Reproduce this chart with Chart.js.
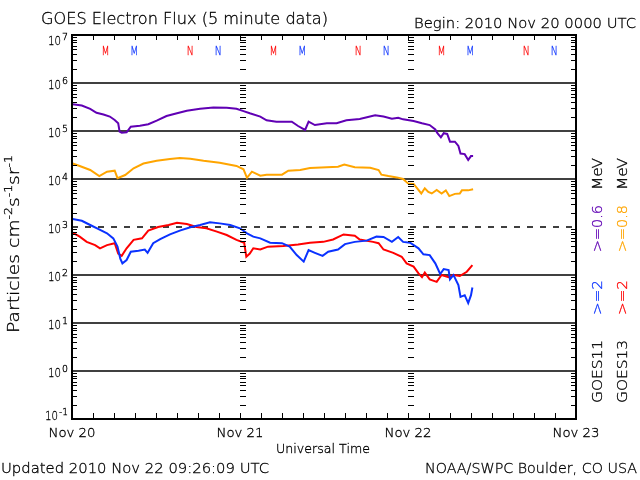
<!DOCTYPE html>
<html>
<head>
<meta charset="utf-8">
<title>GOES Electron Flux</title>
<script src="https://cdn.jsdelivr.net/npm/chart.js@4.4.0/dist/chart.umd.min.js"></script>
<style>
  html, body { margin: 0; padding: 0; background: #fff; }
  canvas { display: block; }
</style>
</head>
<body>
<canvas id="fluxChart" width="640" height="480"></canvas>
<script>
// hours since 2010 Nov 20 0000 UTC, flux in particles cm^-2 s^-1 sr^-1
const g11HighHours = [0.1,1.4,2.6,3.5,4.5,5.4,6.1,6.6,6.8,7.1,7.8,8.4,9.7,10.9,12.1,13.5,15.0,16.4,18.3,20.2,
  22.1,23.5,24.5,25.4,26.9,27.8,29.2,31.4,32.3,33.3,33.8,34.7,36.4,37.8,39.2,41.1,43.3,44.5,45.7,46.6,
  47.3,48.8,50.0,51.1,51.9,52.2,52.7,53.1,53.6,54.0,54.7,55.2,55.5,56.1,56.6,57.0,57.3];
const g11HighFlux = [3.6e5,3.4e5,2.9e5,2.4e5,2.2e5,2.0e5,1.7e5,1.45e5,9.7e4,9.2e4,9.4e4,1.23e5,1.29e5,1.38e5,1.64e5,2.05e5,2.34e5,2.65e5,2.9e5,3.1e5,
  3.05e5,2.9e5,2.6e5,2.34e5,2.0e5,1.67e5,1.56e5,1.56e5,1.27e5,1.05e5,1.56e5,1.33e5,1.45e5,1.45e5,1.67e5,1.78e5,2.12e5,2.0e5,1.8e5,1.89e5,
  1.75e5,1.62e5,1.45e5,1.33e5,1.08e5,9.0e4,7.4e4,9.0e4,8.7e4,6.0e4,6.0e4,4.9e4,3.4e4,3.3e4,2.5e4,3.0e4,3.0e4];

const g13HighHours = [0.1,1.1,2.6,3.9,5.0,6.1,6.5,7.6,8.8,10.2,12.1,14.0,15.4,16.9,18.8,21.1,23.5,24.5,25.0,25.7,
  26.9,27.8,30.0,30.9,32.6,34.0,36.4,38.0,38.9,40.4,42.6,43.8,44.2,45.2,46.4,47.3,48.0,48.8,49.2,49.9,
  50.4,50.9,51.4,52.1,52.8,53.4,53.9,54.7,55.4,55.7,56.6,57.3];
const g13HighFlux = [2.1e4,1.87e4,1.54e4,1.15e4,1.42e4,1.49e4,1.04e4,1.21e4,1.67e4,2.1e4,2.4e4,2.6e4,2.74e4,2.65e4,2.4e4,2.19e4,1.87e4,1.59e4,1.06e4,1.42e4,
  1.17e4,1.23e4,1.23e4,1.49e4,1.54e4,1.69e4,1.75e4,1.8e4,1.99e4,1.75e4,1.72e4,1.54e4,1.23e4,1.15e4,1.08e4,1.0e4,8.1e3,7.9e3,6.7e3,5.0e3,
  6.4e3,5.4e3,5.0e3,5.9e3,5.0e3,5.8e3,4.4e3,4.9e3,5.0e3,5.8e3,5.8e3,6.1e3];

const g11LowHours = [0.1,1.4,2.6,3.8,5.0,5.9,6.5,6.9,7.2,7.8,8.4,9.5,10.4,10.8,11.6,12.6,14.0,15.4,16.9,18.3,
  19.7,21.1,22.6,24.0,25.0,25.9,26.9,28.3,30.0,31.1,32.1,33.1,33.8,34.7,35.8,36.6,38.0,39.0,40.4,42.1,
  43.5,44.5,45.7,46.6,47.3,48.3,49.5,50.2,51.1,51.9,52.6,53.1,53.8,54.0,54.5,55.2,55.5,56.1,56.6,57.0,57.2];
const g11LowFlux = [1.47e3,1.35e3,1.1e3,9.0e2,7.4e2,5.8e2,3.9e2,2.2e2,1.75e2,2.05e2,3.05e2,3.2e2,3.4e2,2.9e2,4.6e2,5.6e2,7.0e2,8.4e2,9.9e2,1.1e3,
  1.25e3,1.19e3,1.1e3,9.4e2,7.4e2,6.3e2,5.8e2,4.7e2,4.6e2,3.9e2,2.6e2,1.9e2,3.3e2,2.9e2,2.5e2,3.05e2,3.4e2,4.4e2,4.9e2,5.2e2,
  6.3e2,6.2e2,4.9e2,6.2e2,4.9e2,4.7e2,3.6e2,2.7e2,2.6e2,1.75e2,1.05e2,1.33e2,1.27e2,81,100,62,35,38,26,38,55];

const g13LowHours = [0.1,1.1,2.1,3.3,4.0,5.0,6.1,6.6,7.1,7.8,8.8,10.0,10.9,12.3,13.8,15.0,16.4,17.8,19.2,20.7,
  22.1,23.5,24.6,24.9,25.4,25.9,26.9,28.0,30.2,32.3,34.0,35.9,37.3,38.8,40.4,41.1,43.0,43.8,44.5,45.9,
  47.1,47.8,48.8,49.5,50.0,50.4,51.1,52.1,52.8,53.8,54.5,55.4,56.4,57.2];
const g13LowFlux = [7.6e2,6.3e2,4.9e2,4.2e2,3.6e2,4.2e2,4.6e2,2.8e2,2.5e2,3.6e2,5.4e2,5.8e2,8.4e2,1.0e3,1.1e3,1.23e3,1.15e3,1.0e3,9.4e2,8.0e2,
  6.8e2,5.4e2,4.7e2,2.4e2,2.8e2,3.6e2,3.4e2,3.9e2,4.0e2,4.3e2,4.7e2,4.9e2,5.5e2,7.0e2,6.6e2,5.5e2,4.9e2,4.6e2,3.4e2,2.9e2,
  2.4e2,1.75e2,1.5e2,1.08e2,90,1.12e2,81,72,100,90,100,95,1.17e2,1.6e2];

const decadeExponents = [-1, 0, 1, 2, 3, 4, 5, 6, 7];
const dayLabels = ['Nov 20', 'Nov 21', 'Nov 22', 'Nov 23'];
const dayHours = [0, 24, 48, 72];

// local midnight (M) / noon (N) of each satellite
const markLetters = ['M', 'M', 'N', 'N', 'M', 'M', 'N', 'N', 'M', 'M', 'N', 'N'];
const markSats = ['G13', 'G11', 'G13', 'G11', 'G13', 'G11', 'G13', 'G11', 'G13', 'G11', 'G13', 'G11'];
const markHours = [4.8, 8.9, 16.9, 20.9, 28.8, 32.9, 40.9, 44.9, 52.8, 56.9, 64.9, 68.9];

const FONT = '"DejaVu Sans", sans-serif';
const WEIGHT = '200 ';
const COLORS = { g11High: '#6000b4', g13High: '#ffa500', g11Low: '#0a32ff', g13Low: '#ff0000' };
const satColor = { G11: COLORS.g11Low, G13: COLORS.g13Low };

function toPoints(hours, flux) {
  return hours.map((h, i) => ({ x: h, y: flux[i] }));
}

// thin font, darkened with a hairline stroke
function paint(ctx, text, x, y, color) {
  ctx.fillStyle = color;
  ctx.strokeStyle = color;
  ctx.fillText(text, x, y);
  ctx.strokeText(text, x, y);
}

// text squeezed/stretched to a measured width
function fitText(ctx, text, x, y, size, width, align, color) {
  ctx.save();
  ctx.font = WEIGHT + size + 'px ' + FONT;
  ctx.lineWidth = 0.3;
  ctx.textBaseline = 'alphabetic';
  ctx.textAlign = 'left';
  const w = ctx.measureText(text).width;
  let x0 = x;
  if (align === 'right') x0 = x - width;
  if (align === 'center') x0 = x - width / 2;
  ctx.translate(x0, y);
  ctx.scale(width / w, 1);
  paint(ctx, text, 0, 0, color || '#000');
  ctx.restore();
}

// vertical text reading upward, baseline on the right
function upText(ctx, text, baseX, yBottom, yTop, size, color) {
  ctx.save();
  ctx.font = WEIGHT + size + 'px ' + FONT;
  ctx.lineWidth = 0.3;
  ctx.textAlign = 'left';
  ctx.textBaseline = 'alphabetic';
  const w = ctx.measureText(text).width;
  ctx.translate(baseX, yBottom);
  ctx.rotate(-Math.PI / 2);
  ctx.scale((yBottom - yTop) / w, 1);
  paint(ctx, text, 0, 0, color);
  ctx.restore();
}

const framePlugin = {
  id: 'goesFrame',
  beforeDatasetsDraw(chart) {
    const { ctx, chartArea: a, scales: { y } } = chart;
    ctx.save();
    ctx.strokeStyle = '#000';
    ctx.lineWidth = 1.3;
    decadeExponents.forEach(e => {
      if (e === -1 || e === 7) return;
      const py = Math.round(y.getPixelForValue(Math.pow(10, e)));
      ctx.setLineDash(e === 3 ? [6, 7] : []);
      ctx.beginPath();
      ctx.moveTo(a.left, py);
      ctx.lineTo(a.right, py);
      ctx.stroke();
    });
    ctx.restore();
  },
  afterDatasetsDraw(chart) {
    const { ctx, chartArea: a, scales: { x, y } } = chart;
    ctx.save();
    ctx.strokeStyle = '#000';
    ctx.fillStyle = '#000';

    // minor log ticks on both edges and at each day boundary
    ctx.lineWidth = 1;
    const innerDays = dayHours.slice(1, -1).map(h => Math.round(x.getPixelForValue(h)));
    for (let e = -1; e < 7; e++) {
      for (let m = 2; m <= 9; m++) {
        const py = Math.round(y.getPixelForValue(m * Math.pow(10, e))) + 0.5;
        ctx.beginPath();
        ctx.moveTo(a.left, py); ctx.lineTo(a.left + 5, py);
        ctx.moveTo(a.right - 5, py); ctx.lineTo(a.right, py);
        innerDays.forEach(px => { ctx.moveTo(px, py); ctx.lineTo(px + 6, py); });
        ctx.stroke();
      }
    }
    // 3-hour ticks top and bottom
    for (let h = 3; h < 72; h += 3) {
      const px = Math.round(x.getPixelForValue(h)) + 0.5;
      ctx.beginPath();
      ctx.moveTo(px, a.top); ctx.lineTo(px, a.top + 5);
      ctx.moveTo(px, a.bottom); ctx.lineTo(px, a.bottom - 6);
      ctx.stroke();
    }
    // frame
    ctx.lineWidth = 2;
    ctx.strokeRect(a.left, a.top, a.right - a.left, a.bottom - a.top);

    // y tick labels
    decadeExponents.forEach(e => {
      const g = y.getPixelForValue(Math.pow(10, e));
      let shift = 0;
      if (e === 7) shift = 4;
      if (e === -1) shift = -5;
      const ew = e < 0 ? 9 : 6;
      fitText(ctx, String(e), 68, g + 1 + shift, 9, ew, 'right');
      fitText(ctx, '10', 68 - ew - 1, g + 6 + shift, 13, 13, 'right');
    });

    // day labels
    dayLabels.forEach((lab, i) => {
      fitText(ctx, lab, x.getPixelForValue(dayHours[i]), 437, 12, 47, 'center');
    });
    fitText(ctx, 'Universal Time', 323, 453, 12, 94, 'center');

    // M / N markers
    markLetters.forEach((l, i) => {
      fitText(ctx, l, x.getPixelForValue(markHours[i]), 55, 13, l === 'M' ? 8 : 7, 'center', satColor[markSats[i]]);
    });

    // titles and footers
    fitText(ctx, 'GOES Electron Flux (5 minute data)', 41, 24, 15, 287, 'left');
    fitText(ctx, 'Begin: 2010 Nov 20 0000 UTC', 636, 28, 14, 222, 'right');
    fitText(ctx, 'Updated 2010 Nov 22 09:26:09 UTC', 1, 473, 14, 268, 'left');
    fitText(ctx, 'NOAA/SWPC Boulder, CO USA', 637, 473, 14, 212, 'right');

    // y axis title with superscripts, reading upward
    const parts = [['Particles cm', 0], ['-2', 1], ['s', 0], ['-1', 1], ['sr', 0], ['-1', 1]];
    ctx.save();
    let total = 0;
    parts.forEach(p => { ctx.font = WEIGHT + (p[1] ? 10 : 15) + 'px ' + FONT; total += ctx.measureText(p[0]).width; });
    ctx.translate(18.5, 333);
    ctx.rotate(-Math.PI / 2);
    ctx.scale(178 / total, 1);
    ctx.lineWidth = 0.3;
    let cx = 0;
    parts.forEach(p => {
      ctx.font = WEIGHT + (p[1] ? 10 : 15) + 'px ' + FONT;
      paint(ctx, p[0], cx, p[1] ? -7 : 0, '#000');
      cx += ctx.measureText(p[0]).width;
    });
    ctx.restore();

    // right-hand legend columns
    upText(ctx, 'GOES11', 601.5, 403, 340, 14, '#000');
    upText(ctx, '>=2', 601.5, 315, 280, 14, COLORS.g11Low);
    upText(ctx, '>=0.6', 601.5, 252, 205, 14, COLORS.g11High);
    upText(ctx, 'MeV', 601.5, 190, 158, 14, '#000');
    upText(ctx, 'GOES13', 627, 403, 340, 14, '#000');
    upText(ctx, '>=2', 627, 315, 280, 14, COLORS.g13Low);
    upText(ctx, '>=0.8', 627, 252, 205, 14, COLORS.g13High);
    upText(ctx, 'MeV', 627, 190, 158, 14, '#000');

    ctx.restore();
  }
};

const ctx = document.getElementById('fluxChart').getContext('2d');
new Chart(ctx, {
  type: 'line',
  data: {
    datasets: [
      { label: 'GOES11 >=0.6 MeV', data: toPoints(g11HighHours, g11HighFlux), borderColor: COLORS.g11High },
      { label: 'GOES13 >=0.8 MeV', data: toPoints(g13HighHours, g13HighFlux), borderColor: COLORS.g13High },
      { label: 'GOES11 >=2 MeV', data: toPoints(g11LowHours, g11LowFlux), borderColor: COLORS.g11Low },
      { label: 'GOES13 >=2 MeV', data: toPoints(g13LowHours, g13LowFlux), borderColor: COLORS.g13Low }
    ]
  },
  options: {
    responsive: false,
    animation: false,
    layout: { padding: { left: 72, right: 64, top: 35, bottom: 61 } },
    elements: {
      point: { radius: 0 },
      line: { borderWidth: 2, tension: 0, fill: false }
    },
    scales: {
      x: { type: 'linear', min: 0, max: 72, display: false },
      y: { type: 'logarithmic', min: 0.1, max: 1e7, display: false }
    },
    plugins: {
      legend: { display: false },
      tooltip: { enabled: false }
    }
  },
  plugins: [framePlugin]
});
</script>
</body>
</html>
